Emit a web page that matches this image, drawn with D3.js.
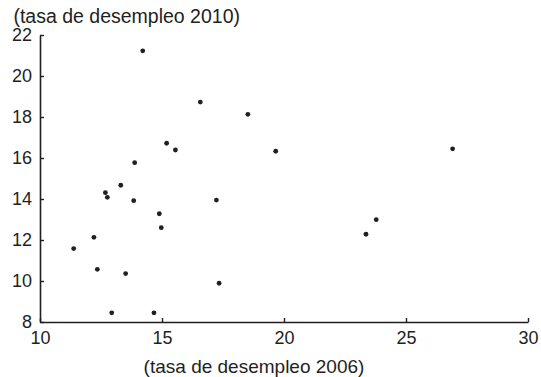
<!DOCTYPE html>
<html>
<head>
<meta charset="utf-8">
<script src="https://cdn.jsdelivr.net/npm/d3@7"></script>
<style>
  html, body { margin: 0; padding: 0; background: #fff; }
  svg { display: block; }
  text { font-family: "Liberation Sans", Arial, sans-serif; fill: #231f20; }
</style>
</head>
<body>
<svg id="chart" width="541" height="377"></svg>
<script>
// Unemployment rate 2006 (x) vs 2010 (y)
const rate2006 = [14.21, 16.57, 18.52, 15.19, 15.55, 13.88, 13.31, 19.66, 26.91,
                  12.68, 12.76, 13.84, 17.23, 14.89, 14.97, 12.21, 11.38, 12.35,
                  13.51, 17.34, 12.94, 14.67, 23.78, 23.36];
const rate2010 = [21.23, 18.73, 18.13, 16.72, 16.39, 15.77, 14.67, 16.33, 16.45,
                  14.31, 14.08, 13.92, 13.95, 13.28, 12.60, 12.13, 11.58, 10.57,
                  10.36, 9.89, 8.45, 8.45, 12.99, 12.28];
const xTicks = [10, 15, 20, 25, 30];
const yTicks = [8, 10, 12, 14, 16, 18, 20, 22];
const xLabel = "(tasa de desempleo 2006)";
const yLabel = "(tasa de desempleo 2010)";

(function () {
  const svg = d3.select("#chart");
  const mLeft = 40, mRight = 528, mTop = 35, mBottom = 322;

  const x = d3.scaleLinear().domain([10, 30]).range([mLeft, mRight]);
  const y = d3.scaleLinear().domain([8, 22]).range([mBottom, mTop]);

  const ink = "#231f20";
  const font = '"Liberation Sans", Arial, sans-serif';

  // X axis (ticks pointing up, inside)
  const xAxis = svg.append("g")
    .attr("transform", `translate(0,${mBottom})`)
    .call(d3.axisBottom(x).tickValues(xTicks).tickSize(-4).tickSizeOuter(0).tickFormat(d3.format("d")));
  xAxis.select(".domain").attr("stroke", ink).attr("stroke-width", 1.6);
  xAxis.selectAll(".tick line").attr("stroke", ink).attr("stroke-width", 1.4);
  xAxis.selectAll(".tick text").attr("font-size", 18).attr("y", 9).attr("dy", "0.71em")
    .style("font-family", font).attr("fill", ink);

  // Y axis (ticks pointing right, inside)
  const yAxis = svg.append("g")
    .attr("transform", `translate(${mLeft},0)`)
    .call(d3.axisLeft(y).tickValues(yTicks).tickSize(-4).tickSizeOuter(0).tickFormat(d3.format("d")));
  yAxis.select(".domain").attr("stroke", ink).attr("stroke-width", 1.6);
  yAxis.selectAll(".tick line").attr("stroke", ink).attr("stroke-width", 1.4);
  yAxis.selectAll(".tick text").attr("font-size", 18).attr("x", -8)
    .style("font-family", font).attr("fill", ink);

  // Axis titles
  svg.append("text")
    .attr("x", 240).attr("y", 23)
    .attr("text-anchor", "end")
    .attr("font-size", 19.5)
    .text(yLabel);

  svg.append("text")
    .attr("x", 254).attr("y", 373)
    .attr("text-anchor", "middle")
    .attr("font-size", 19)
    .text(xLabel);

  // Points
  const data = rate2006.map((v, i) => ({ x: v, y: rate2010[i] }));
  svg.append("g").selectAll("circle")
    .data(data)
    .join("circle")
    .attr("cx", d => x(d.x))
    .attr("cy", d => y(d.y))
    .attr("r", 2.4)
    .attr("fill", ink);
})();
</script>
</body>
</html>
